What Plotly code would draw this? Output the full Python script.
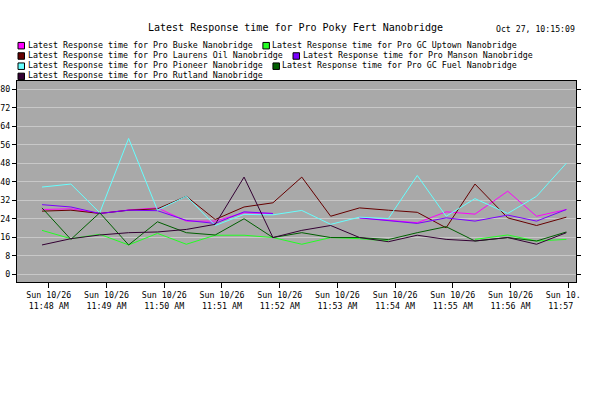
import plotly.graph_objects as go

# ---- data ----
times = ["2025-10-26 11:47:53", "2025-10-26 11:48:23", "2025-10-26 11:48:53", "2025-10-26 11:49:23",
         "2025-10-26 11:49:53", "2025-10-26 11:50:23", "2025-10-26 11:50:53", "2025-10-26 11:51:23",
         "2025-10-26 11:51:53", "2025-10-26 11:52:23", "2025-10-26 11:52:53", "2025-10-26 11:53:23",
         "2025-10-26 11:53:53", "2025-10-26 11:54:23", "2025-10-26 11:54:53", "2025-10-26 11:55:23",
         "2025-10-26 11:55:57", "2025-10-26 11:56:27", "2025-10-26 11:56:58"]

buske = [28, 28.3, 26.3, 27.8, 28.7, 23, 23, 26.6, 26.3, None, None, 24.4, 23.3, 22.3, 27, 26, 35.9, 25.1, 28]
gc_uptown = [19, 15.4, 17.3, 12.7, 17.7, 13, 16.9, 16.9, 15.9, 13, 15.9, 15.4, 14.4, None, None, 15.1, 17, 14.4, 15.1]
laurens_oil = [27.3, 27.7, 26.3, 27.7, 28.3, 33.7, 23.7, 29.1, 30.9, 42, 25.1, 28.7, 27.7, 26.8, 20.1, 39, 24.4, 21.1, 24.7]
manson = [30.1, 29.1, 26.3, 27.7, 27.5, 23.3, 22, 27, 26.3, None, None, 24.4, 23.3, 22, 24.4, 23, 25.6, 23, 28]
pioneer = [37.7, 39, 26.6, 58.7, 27.7, 33.7, 21.1, 25.9, 25.7, 27.6, 21.6, 24.7, 24.1, 42.7, 25.1, 32.7, 26.3, 33.7, 48]
gc_fuel = [28.7, 15.1, 26.6, 12.7, 22.7, 18, 17, 24, 15.9, 18, 15.9, 15.9, 15, 18, 20.6, 14.4, 15.9, 14.4, 18.3]
rutland = [12.7, 15.4, 17, 18, 18.3, 19.4, 21.6, 42, 15.9, 19, 21.1, 15.9, 14.1, 16.9, 15.1, 14.4, 15.9, 13, 18]

series_names = ["Latest Response time for Pro Buske Nanobridge",
                "Latest Response time for Pro GC Uptown Nanobridge",
                "Latest Response time for Pro Laurens Oil Nanobridge",
                "Latest Response time for Pro Manson Nanobridge",
                "Latest Response time for Pro Pioneer Nanobridge",
                "Latest Response time for Pro GC Fuel Nanobridge",
                "Latest Response time for Pro Rutland Nanobridge"]
series_values = [buske, gc_uptown, laurens_oil, manson, pioneer, gc_fuel, rutland]
series_colors = ["#ff00ff", "#22ff22", "#660000", "#7a00ff", "#66ffff", "#005f00", "#330033"]

tick_vals = ["2025-10-26 11:%02d:00" % m for m in range(48, 58)]
tick_text = ["Sun 10/26<br>11:%02d AM" % m for m in range(48, 57)] + ["Sun 10.\u00a0\u00a0<br>11:57\u00a0\u00a0\u00a0"]
y_ticks = list(range(0, 81, 8))

title_text = "Latest Response time for Pro Poky Fert Nanobridge"
date_text = "Oct 27, 10:15:09"

# ---- figure ----
FONT = "DejaVu Sans Mono"
W, H = 616, 393
L, R, T, B = 17, 576, 81, 282  # plot area in px

def px_x(px):
    return (px - L) / (R - L)

def px_y(py):
    return (B - py) / (B - T)

fig = go.Figure()
for name, vals, col in zip(series_names, series_values, series_colors):
    fig.add_trace(go.Scatter(x=times, y=vals, mode="lines", name=name,
                             line=dict(color=col, width=1), connectgaps=False))

annotations = []
shapes = []

annotations.append(dict(text=title_text, x=px_x(295.8), y=px_y(27.5), xref="paper", yref="paper",
                        xanchor="center", yanchor="middle", showarrow=False,
                        font=dict(family=FONT, size=10, color="black")))
annotations.append(dict(text=date_text, x=px_x(494), y=px_y(29.5), xref="paper", yref="paper",
                        xanchor="left", yanchor="middle", showarrow=False,
                        font=dict(family=FONT, size=8.2, color="black")))

# legend laid out in flow rows like the reference
rows = [[0, 1], [2, 3], [4, 5], [6]]
row_y = [44.5, 54.8, 65.0, 75.2]
char_w = 5.02
for r, items in enumerate(rows):
    xpos = 18.0
    for i in items:
        sq = 6.5
        cy = row_y[r] + 1.2
        shapes.append(dict(type="rect", xref="paper", yref="paper",
                           x0=px_x(xpos), x1=px_x(xpos + sq), y0=px_y(cy + sq / 2), y1=px_y(cy - sq / 2),
                           fillcolor=series_colors[i], line=dict(color="black", width=1)))
        tx = xpos + 8.5
        annotations.append(dict(text=series_names[i], x=px_x(tx), y=px_y(row_y[r]), xref="paper", yref="paper",
                                xanchor="left", yanchor="middle", showarrow=False, borderpad=0,
                                font=dict(family=FONT, size=8.3, color="black")))
        xpos = tx + len(series_names[i]) * char_w + 10.5

fig.update_layout(
    width=W, height=H,
    margin=dict(l=L, r=W - R, t=T, b=H - B, pad=0, autoexpand=False),
    paper_bgcolor="white", plot_bgcolor="#a9a9a9",
    showlegend=False,
    font=dict(family=FONT, size=8.3, color="black"),
    annotations=annotations, shapes=shapes,
    xaxis=dict(type="date", range=["2025-10-26 11:47:27", "2025-10-26 11:57:08"],
               tickmode="array", tickvals=tick_vals, ticktext=tick_text, tickangle=0,
               ticks="outside", ticklen=5, tickcolor="black", tickwidth=1,
               showline=True, linecolor="black", linewidth=1, mirror=True,
               showgrid=False, zeroline=False, automargin=False,
               tickfont=dict(family=FONT, size=8.3, color="black")),
    yaxis=dict(range=[-3.3, 83.5], tickmode="array", tickvals=y_ticks,
               ticks="outside", ticklen=4, tickcolor="black", tickwidth=1,
               showline=True, linecolor="black", linewidth=1, mirror="ticks",
               showgrid=True, gridcolor="#c8c8c8", gridwidth=1, zeroline=False, automargin=False,
               tickfont=dict(family=FONT, size=8.3, color="black")),
)

fig.write_html("out.html", config={"displayModeBar": False},
               post_script="document.body.style.margin='0';document.body.style.overflow='hidden';")
